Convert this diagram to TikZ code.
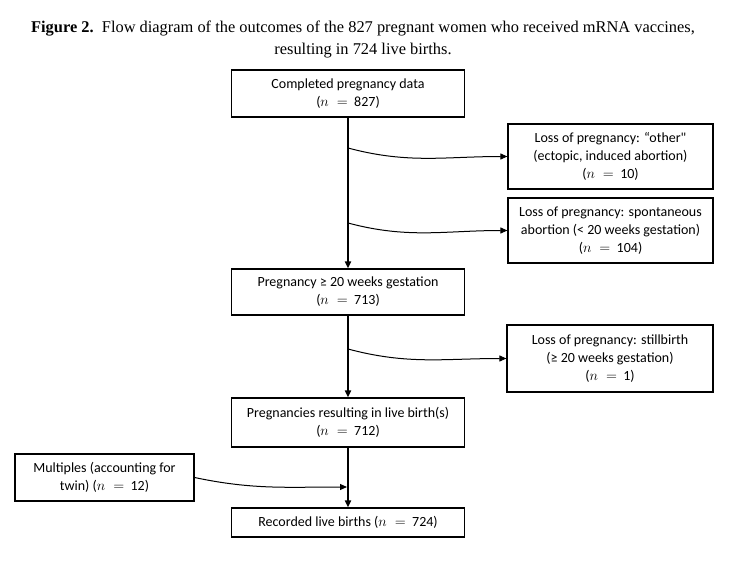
\documentclass[tikz,border=0pt]{standalone}
\usepackage{fontspec}
\setmainfont{Carlito}
\newfontfamily\captionfont{Liberation Serif}
\usepackage{tikz}
\usetikzlibrary{arrows.meta,calc,positioning}

\newcommand{\ncount}[1]{(\(n\;=\;\)\,#1)}

\begin{document}
\begin{tikzpicture}[x=1pt, y=-1pt,
    >={Triangle[length=7pt, width=6pt]},
    box/.style={draw, line width=1.2pt, align=center, inner sep=0pt,
        font=\fontsize{14}{18}\selectfont},
    flow/.style={->, line width=1.8pt},
    branch/.style={->, line width=1pt}]
    \useasboundingbox (0,0) rectangle (740,570);

    % Caption
    \node[font=\captionfont\fontsize{16.4}{22}\selectfont, align=center] (caption) at (363,39)
        {\textbf{Figure 2.}\ \ Flow diagram of the outcomes of the 827 pregnant women who received mRNA vaccines,\\
        resulting in 724 live births.};

    % Main column
    \node[box, minimum width=233, minimum height=47] (data) at (348,93.5)
        {Completed pregnancy data\\ \ncount{827}};
    \node[box, minimum width=233, minimum height=46] (twenty) at (348,292)
        {Pregnancy ≥ 20 weeks gestation\\ \ncount{713}};
    \node[box, minimum width=233, minimum height=49] (live) at (348,422.5)
        {Pregnancies resulting in live birth(s)\\ \ncount{712}};
    \node[box, minimum width=233, minimum height=29] (births) at (348,522.5)
        {Recorded live births \ncount{724}};

    % Losses
    \node[box, minimum width=205, minimum height=65] (other) at (610.5,156.5)
        {Loss of pregnancy: “other\textquotedbl\\ (ectopic, induced abortion)\\ \ncount{10}};
    \node[box, minimum width=205, minimum height=65] (spont) at (610.5,230.5)
        {Loss of pregnancy: spontaneous\\ abortion (< 20 weeks gestation)\\ \ncount{104}};
    \node[box, minimum width=206, minimum height=67] (still) at (610,358.5)
        {Loss of pregnancy: stillbirth\\ (≥ 20 weeks gestation)\\ \ncount{1}};

    % Multiples
    \node[box, minimum width=179, minimum height=47] (twins) at (104.5,477.5)
        {Multiples (accounting for\\ twin) \ncount{12}};

    % Branch points
    \coordinate (b1) at (348,148);
    \coordinate (b2) at (348,223);
    \coordinate (b3) at (348,349);
    \coordinate (m1) at (347,487);

    % Arrows
    \draw[flow] (data) -- (twenty);
    \draw[flow] (twenty) -- (live);
    \draw[flow] (live) -- (births);
    \draw[branch] (b1) to[out=-15, in=180] (other.west);
    \draw[branch] (b2) to[out=-15, in=180] (spont.west);
    \draw[branch] (b3) to[out=-15, in=180] (still.west);
    \draw[branch] (twins.east) to[out=-12, in=180] (m1);
\end{tikzpicture}
\end{document}
